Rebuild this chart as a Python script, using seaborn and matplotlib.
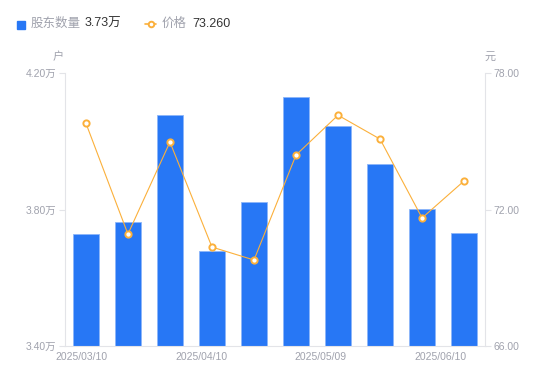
import matplotlib
matplotlib.use("Agg")
import matplotlib.pyplot as plt
import seaborn as sns
import numpy as np
import pandas as pd

# data
dates = ["2025/03/10", "2025/03/20", "2025/03/31", "2025/04/10", "2025/04/18",
         "2025/04/30", "2025/05/09", "2025/05/20", "2025/05/30", "2025/06/10"]
holders = [3.728, 3.763, 4.077, 3.678, 3.822, 4.130, 4.045, 3.933, 3.801, 3.731]  # 万户
price = [75.80, 70.92, 74.97, 70.35, 69.78, 74.40, 76.15, 75.10, 71.63, 73.26]  # 元

left_ticks = [3.40, 3.80, 4.20]
right_ticks = [66.0, 72.0, 78.0]
shown_dates = ["2025/03/10", "2025/04/10", "2025/05/09", "2025/06/10"]

BLUE = "#2777F5"
ORANGE = "#FBB03B"
GRAY = "#A0A2AD"
AXIS = "#E3E4E8"

sns.set_style("white")
plt.rcParams['font.family'] = ['Liberation Sans', 'Noto Sans CJK SC']

df = pd.DataFrame({"date": dates, "holders": holders, "price": price, "idx": np.arange(len(dates))})

fig = plt.figure(figsize=(5.5, 3.81), dpi=100)
ax = fig.add_axes([0.118, 0.092, 0.764, 0.716])

sns.barplot(data=df, x="idx", y="holders", color=BLUE, width=0.6, ax=ax,
            edgecolor="#8DB6F9", linewidth=0.6, saturation=1)
ax.set_ylim(left_ticks[0], left_ticks[-1])
ax.set_xlim(-0.5, len(dates) - 0.5)
ax.set_yticks(left_ticks)
ax.set_yticklabels([f"{v:.2f}万" for v in left_ticks])
ax.set_xlabel("")
ax.set_ylabel("")

# x labels spread evenly across the axis like the reference
label_pos = np.linspace(-0.1, 8.43, 4)
ax.set_xticks(label_pos)
ax.set_xticklabels(shown_dates)

ax2 = ax.twinx()
sns.lineplot(data=df, x="idx", y="price", ax=ax2, color=ORANGE, linewidth=0.8,
             marker="o", markersize=4.5, markerfacecolor="white",
             markeredgecolor=ORANGE, markeredgewidth=1.4)
ax2.set_ylim(right_ticks[0], right_ticks[-1])
ax2.set_yticks(right_ticks)
ax2.set_yticklabels([f"{v:.2f}" for v in right_ticks])
ax2.set_xlabel("")
ax2.set_ylabel("")
ax2.set_xlim(-0.5, len(dates) - 0.5)

for a in (ax, ax2):
    for s in a.spines.values():
        s.set_visible(False)
ax.spines["left"].set_visible(True)
ax.spines["left"].set_color(AXIS)
ax.spines["bottom"].set_visible(True)
ax.spines["bottom"].set_color(AXIS)
ax2.spines["right"].set_visible(True)
ax2.spines["right"].set_color(AXIS)

ax.tick_params(axis="y", length=4, color=AXIS, labelcolor=GRAY, labelsize=7.5, pad=2, left=True)
ax.tick_params(axis="x", length=0, labelcolor=GRAY, labelsize=7.5, pad=4)
ax2.tick_params(axis="y", length=4, color=AXIS, labelcolor=GRAY, labelsize=7.5, pad=2, right=True)

# unit labels
fig.text(58 / 550, 1 - 57 / 381, "户", color=GRAY, fontsize=8, ha="center", va="center")
fig.text(490 / 550, 1 - 57 / 381, "元", color=GRAY, fontsize=8, ha="center", va="center")

# legend row at the top
fig.patches.append(plt.Rectangle((17 / 550, 1 - 29 / 381), 8 / 550, 8 / 381,
                                 transform=fig.transFigure, color=BLUE))
fig.text(31 / 550, 1 - 24 / 381, "股东数量", color=GRAY, fontsize=9, va="center")
fig.text(85 / 550, 1 - 24 / 381, f"{holders[-1]:.2f}万", color="#333333", fontsize=9, va="center")
fig.lines.append(plt.Line2D([145 / 550, 156 / 550], [1 - 24 / 381, 1 - 24 / 381],
                            transform=fig.transFigure, color=ORANGE, linewidth=1.2))
fig.lines.append(plt.Line2D([150.5 / 550], [1 - 24 / 381], transform=fig.transFigure,
                            marker="o", markersize=4, markerfacecolor="white",
                            markeredgecolor=ORANGE, markeredgewidth=1.4))
fig.text(162 / 550, 1 - 24 / 381, "价格", color=GRAY, fontsize=9, va="center")
fig.text(192 / 550, 1 - 24 / 381, f"{price[-1]:.3f}", color="#333333", fontsize=9, va="center")

fig.savefig("out.png", dpi=100)
